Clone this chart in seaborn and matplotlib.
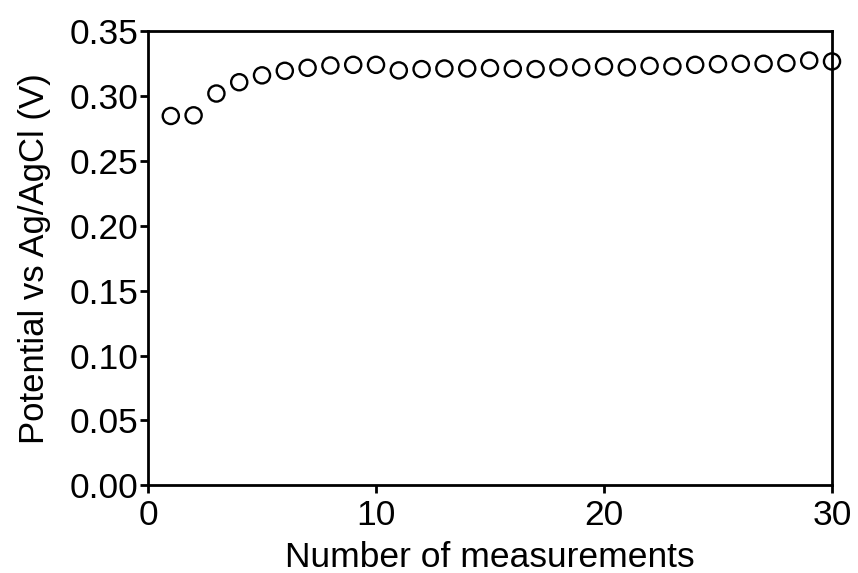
import numpy as np
import pandas as pd
import matplotlib
matplotlib.use("Agg")
import matplotlib.pyplot as plt
import seaborn as sns

# measurement index and potential readings (V vs Ag/AgCl)
measurement = list(range(1, 31))
potential = [
    0.2845, 0.2850, 0.3018, 0.3105, 0.3158, 0.3193, 0.3216, 0.3234, 0.3239, 0.3239,
    0.3196, 0.3206, 0.3211, 0.3211, 0.3214, 0.3208, 0.3206, 0.3219, 0.3219, 0.3227,
    0.3219, 0.3231, 0.3227, 0.3239, 0.3244, 0.3247, 0.3247, 0.3252, 0.3272, 0.3265,
]
x_ticks = [0, 10, 20, 30]
y_ticks = [0.00, 0.05, 0.10, 0.15, 0.20, 0.25, 0.30, 0.35]

df = pd.DataFrame({"measurement": measurement, "potential": potential})

sns.set_style("ticks")
plt.rcParams["font.family"] = ["Liberation Sans", "DejaVu Sans"]
plt.rcParams["text.color"] = "black"
plt.rcParams["axes.labelcolor"] = "black"

fig = plt.figure(figsize=(8.58, 5.73), dpi=100)
ax = fig.add_axes([0.1725, 0.153, 0.7972, 0.793])

sns.scatterplot(
    data=df, x="measurement", y="potential", ax=ax,
    marker="o", s=135, facecolors="none", edgecolors="black",
    linewidth=1.7, clip_on=False, zorder=3,
)

ax.set_xlim(0, 30)
ax.set_ylim(0, 0.35)
ax.set_xticks(x_ticks)
ax.set_yticks(y_ticks)
ax.set_yticklabels([f"{v:.2f}" for v in y_ticks])

ax.set_xlabel("Number of measurements", fontsize=25.5, labelpad=6)
ax.set_ylabel("Potential vs Ag/AgCl (V)", fontsize=25, labelpad=13)
ax.tick_params(axis="both", labelsize=25.5, width=2, length=6, direction="out",
               color="black", labelcolor="black", pad=1)
ax.tick_params(axis="x", pad=4)

for side in ["left", "bottom", "right", "top"]:
    ax.spines[side].set_visible(True)
    ax.spines[side].set_linewidth(2)
    ax.spines[side].set_color("black")

fig.savefig("out.png", dpi=100)
